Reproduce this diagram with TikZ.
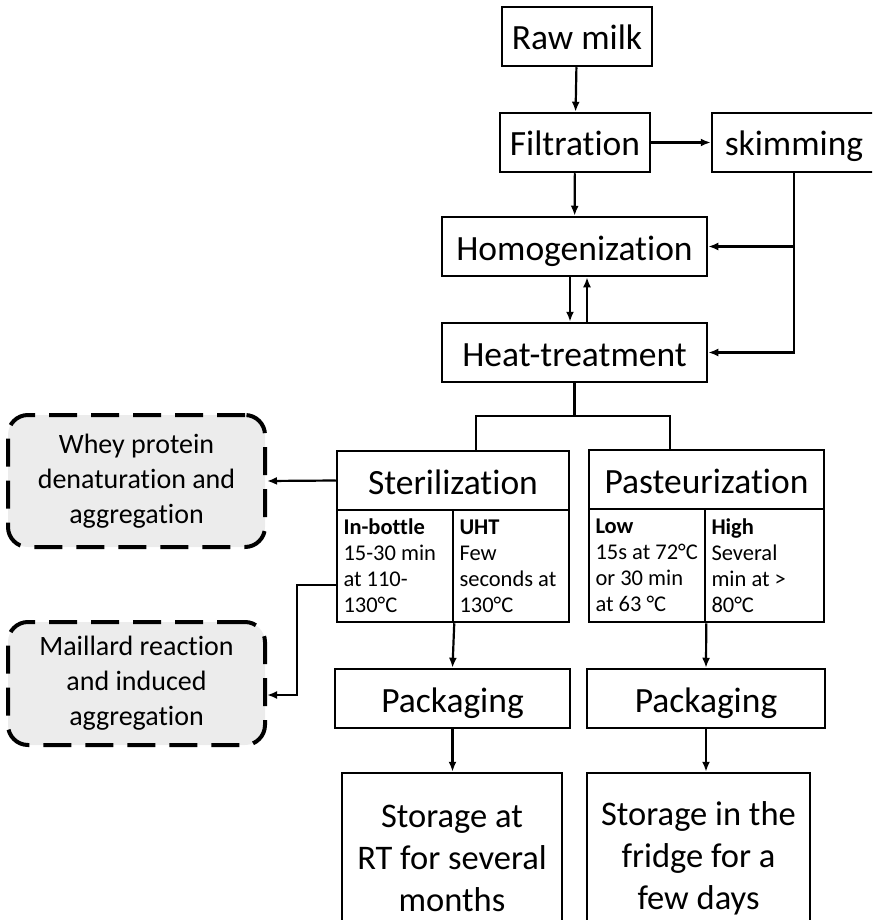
\documentclass[tikz,border=0pt]{standalone}
\usepackage{fontspec}
\setmainfont{Carlito}[Ligatures=NoCommon]
\usetikzlibrary{arrows.meta, positioning, calc}

\begin{document}
\begin{tikzpicture}[x=1pt, y=-1pt, >={Latex[length=10pt,width=8pt]},
    box/.style={draw, line width=2.5pt, minimum height=59pt, inner sep=2pt,
        text height=34pt, text depth=7pt, font=\fontsize{35.5pt}{40pt}\selectfont},
    storebox/.style={draw, line width=2.5pt, minimum height=170pt, inner sep=2pt, align=center,
        font=\fontsize{34.5pt}{42pt}\selectfont},
    cell/.style={draw, line width=2.5pt, align=flush left, inner xsep=6.5pt, inner ysep=2pt,
        minimum height=112pt, font=\fontsize{22.5pt}{26pt}\selectfont},
    sidebox/.style={draw, line width=4pt, dash pattern=on 28pt off 14pt, rounded corners=20pt,
        fill=gray!15, align=center, inner sep=2pt, font=\fontsize{28pt}{35pt}\selectfont},
    link/.style={line width=2.2pt}]
    \useasboundingbox (0,0) rectangle (872,920);
    \clip (0,0) rectangle (872,920);

    % main line
    \node[box, minimum width=150pt] (raw) at (577,36.5) {Raw milk};
    \node[box, minimum width=150pt] (filt) at (575,142.5) {Filtration};
    \node[box, minimum width=164pt] (skim) at (794,142.5) {skimming};
    \node[box, minimum width=265pt] (homo) at (574.5,246.5) {Homogenization};
    \node[box, minimum width=265pt] (heat) at (574.5,352.5) {Heat-treatment};
    \coordinate (split) at (574.5,416);

    % sterilization
    \node[box, minimum width=232pt] (ster) at (453,480.5) {Sterilization};
    \node[cell, text width=103pt] (inb) at (395,566) {\textbf{In-bottle}\\15-30 min\\at 110-\\130°C};
    \node[cell, text width=103pt] (uht) at (511,566) {\textbf{UHT}\\Few\\seconds at\\130°C};

    % pasteurization
    \node[box, minimum width=235pt] (past) at (706.5,479.5) {Pasteurization};
    \node[cell, text width=103pt, minimum height=113pt] (low) at (647,565.5) {\textbf{Low}\\15s at 72°C\\or 30 min\\at 63 °C};
    \node[cell, text width=106pt, minimum height=113pt] (high) at (764.5,565.5) {\textbf{High}\\Several\\min at >\\80°C};

    % packaging and storage
    \node[box, minimum width=235pt] (packL) at (452.5,698.5) {Packaging};
    \node[box, minimum width=238pt] (packR) at (706,698.5) {Packaging};
    \node[storebox, minimum width=220pt] (storL) at (452,858) {Storage at\\RT for several\\months};
    \node[storebox, minimum width=223pt] (storR) at (698.5,858) {Storage in the\\fridge for a\\few days};

    % effects
    \node[sidebox, minimum width=257pt, minimum height=132pt] (whey) at (136.5,481) {Whey protein\\denaturation and\\aggregation};
    \node[sidebox, minimum width=257pt, minimum height=123pt] (mail) at (136.5,683.5) {Maillard reaction\\and induced\\aggregation};

    % connectors
    \draw[link, ->] (raw) -- (filt);
    \draw[link, ->] (filt) -- (homo);
    \draw[link, ->] (filt) -- (skim);
    \draw[link, ->] (skim.south) |- (heat.east);
    \draw[link, ->] (skim.south |- homo.east) -- (homo.east);
    \draw[link, ->] ([xshift=-4.5pt]homo.south) -- ([xshift=-4.5pt]heat.north);
    \draw[link, ->] ([xshift=12.5pt]heat.north) -- ([xshift=12.5pt]homo.south);
    \draw[link] (heat.south) -- (split);
    \draw[link] ([xshift=23pt]ster.north) |- (split) -| ([xshift=-36.5pt]past.north);
    \draw[link, ->] (ster.west) -- (whey.east);
    \draw[link, ->] ([yshift=-19pt]inb.west) -- ++(-39,0) |- ([yshift=-11.5pt]mail.east);
    \draw[link, ->] (inb.south east) -- (packL.north);
    \draw[link, ->] (low.south east) -- (packR.north);
    \draw[link, ->] (packL.south) -- (packL.south |- storL.north);
    \draw[link, ->] (packR.south) -- (packR.south |- storR.north);
\end{tikzpicture}
\end{document}
